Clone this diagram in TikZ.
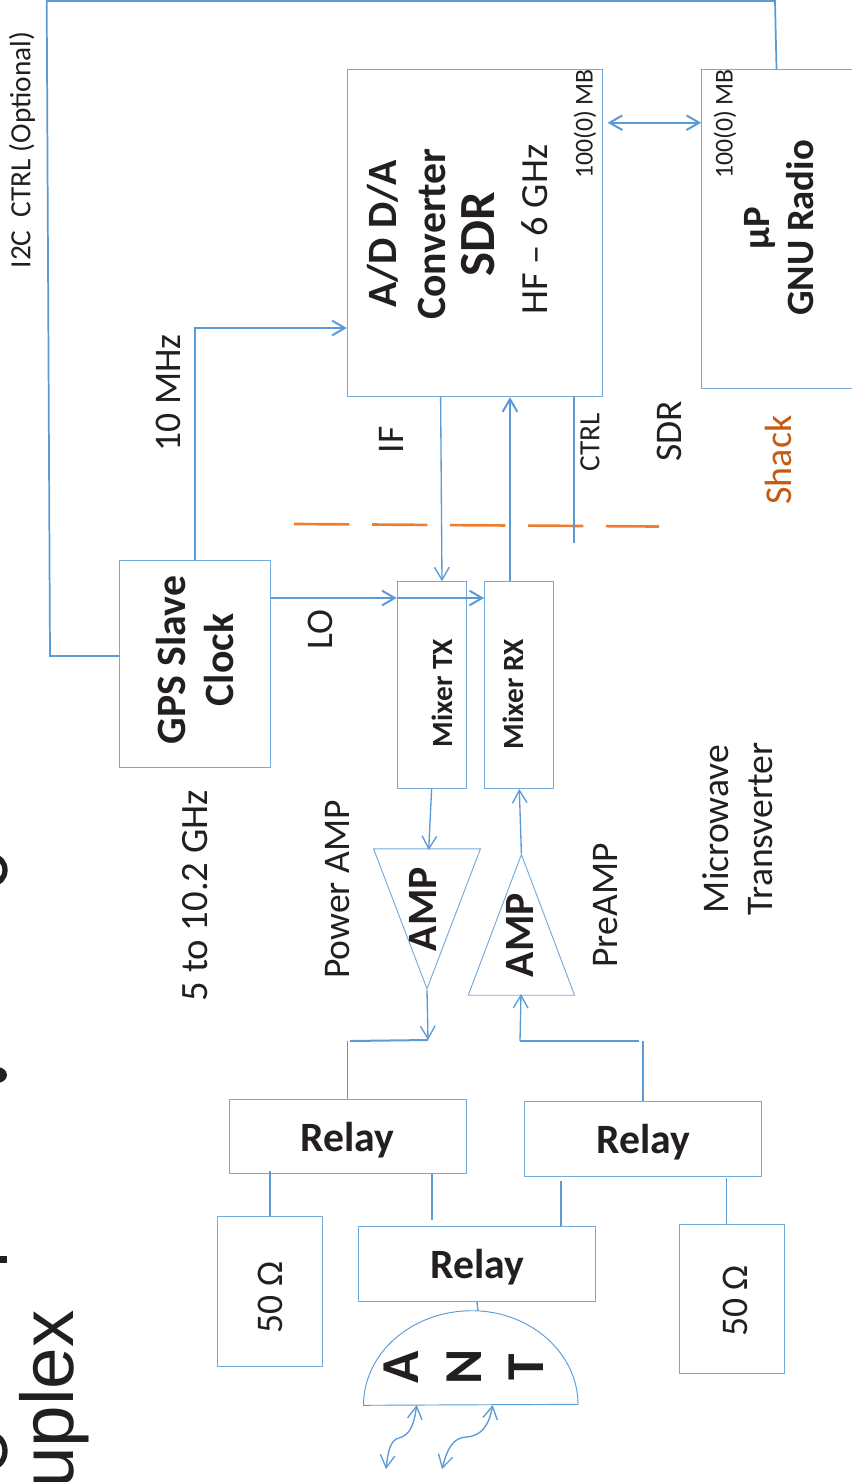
\documentclass[tikz,border=0pt]{standalone}
\usepackage{fontspec}
\setmainfont{Carlito}
\newfontfamily\titlefont{Liberation Sans}
\usepackage{tikz}
\usetikzlibrary{arrows.meta, shapes.geometric, calc}
\definecolor{wireblue}{HTML}{5B9BD5}
\definecolor{dashorange}{HTML}{ED7D31}
\definecolor{shackorange}{HTML}{C55A11}
\definecolor{inkblack}{HTML}{231F20}
\def\px{0.75pt}

\begin{document}
\begin{tikzpicture}[
  x=0.75pt, y=-0.75pt,
  boxnode/.style={draw=wireblue!85, line width=0.7pt, inner sep=0pt, text=inkblack},
  ampnode/.style={draw=wireblue!85, line width=0.7pt, inner sep=0pt, isosceles triangle,
                  isosceles triangle stretches},
  wire/.style={draw=wireblue, line width=1pt},
  bus/.style={draw=wireblue, line width=1.5pt},
  tip/.style={-{Straight Barb[length=9.5pt,width=11pt]}},
  bothtip/.style={{Straight Barb[length=9.5pt,width=11pt]}-{Straight Barb[length=9.5pt,width=11pt]}},
  vlabel/.style={rotate=90, align=center, inner sep=0pt, text=inkblack, font=\fontsize{28.2}{33}\selectfont},
  vbold/.style={vlabel, font=\fontsize{31.3}{36.7}\selectfont\bfseries},
  rlabel/.style={font=\fontsize{31.3}{36}\selectfont\bfseries, text depth=0pt},
]
  \useasboundingbox (0,0) rectangle (851,1482);

  % Title, cut off by the page edge
  \node[rotate=90, anchor=base east, inner sep=0pt, text=inkblack, font=\fontsize{56}{60}\selectfont\titlefont] (titletext) at (73,1310) {uplex};
  \draw[inkblack, line width=4pt] (-8,870) ellipse[x radius=13, y radius=14];
  \draw[inkblack, line width=4pt] (-8,1451) ellipse[x radius=13, y radius=16];
  \fill[inkblack] (0,1256) rectangle (7,1263);
  \fill[inkblack] (-3,1075) ellipse[x radius=10, y radius=8];

  % Boxes
  \node[boxnode, minimum width=255*\px, minimum height=327.4*\px] (sdrbox) at (474.8,233) {};
  \node[boxnode, minimum width=160*\px, minimum height=319*\px] (upbox) at (781.6,228.8) {};
  \node[boxnode, minimum width=150.3*\px, minimum height=207*\px] (gpsbox) at (195,663.8) {};
  \node[boxnode, minimum width=68.8*\px, minimum height=207*\px] (mixtx) at (431.6,685.2) {};
  \node[boxnode, minimum width=68.8*\px, minimum height=207*\px] (mixrx) at (519,685.2) {};
  \node[boxnode, rlabel, minimum width=237*\px, minimum height=74.7*\px] (relaya) at (347.5,1136.4) {Relay};
  \node[boxnode, rlabel, minimum width=236.6*\px, minimum height=74.6*\px] (relayb) at (643,1139) {Relay};
  \node[boxnode, rlabel, minimum width=236.5*\px, minimum height=74.6*\px] (relayc) at (477,1264) {Relay};
  \node[boxnode, minimum width=105.2*\px, minimum height=149.6*\px] (loada) at (270.2,1291.5) {};
  \node[boxnode, minimum width=105.3*\px, minimum height=149.3*\px] (loadb) at (732,1298.7) {};

  % Amplifiers
  \node[ampnode, shape border rotate=-90, anchor=apex, minimum width=106.9*\px, minimum height=140*\px] (amptx) at (427,990) {};
  \node[ampnode, shape border rotate=90, anchor=apex, minimum width=106.3*\px, minimum height=140.7*\px] (amprx) at (521.4,853.3) {};

  % Antenna
  \coordinate (antleft) at (363.5,1405.3);
  \coordinate (antright) at (578,1404.3);
  \coordinate (anttop) at (472,1310.7);
  \draw[wire, line width=0.7pt] (antleft) .. controls (363.5,1353) and (412,1310.7) .. (anttop)
    .. controls (530,1310.7) and (578,1353) .. (antright) -- cycle;
  \node[vbold, font=\fontsize{40}{47}\selectfont\bfseries] (anttext) at (464,1367) {A\\N\\T};

  % Box labels
  \node[vbold] (sdrtext) at (431,234) {A/D D/A\\Converter\\{\fontsize{38}{36.7}\selectfont SDR}};
  \node[vlabel, font=\fontsize{28.8}{33}\selectfont] (hftext) at (535,229.5) {HF -- 6 GHz};
  \node[vlabel, font=\fontsize{19.3}{23}\selectfont] (mba) at (585,124) {100(0) MB};
  \node[vlabel, font=\fontsize{19.3}{23}\selectfont] (mbb) at (725,124) {100(0) MB};
  \node[vbold, font=\fontsize{29}{33}\selectfont\bfseries] (uptext) at (779,228) {µP\\GNU Radio};
  \node[vbold] (gpstext) at (195,660) {GPS Slave\\Clock};
  \node[vlabel, font=\fontsize{22}{26}\selectfont\bfseries] (mixtxtext) at (442,693) {Mixer TX};
  \node[vlabel, font=\fontsize{22}{26}\selectfont\bfseries] (mixrxtext) at (513,694) {Mixer RX};
  \node[vbold] (amptxtext) at (423,909) {AMP};
  \node[vbold] (amprxtext) at (520,935) {AMP};
  \node[vlabel] (loadatext) at (270,1297.5) {50 Ω};
  \node[vlabel] (loadbtext) at (735,1301) {50 Ω};

  % Free labels
  \node[vlabel, font=\fontsize{22}{26}\selectfont] (i2ctext) at (22,150) {I2C\ \ CTRL (Optional)};
  \node[vlabel] (mhztext) at (168,393) {10 MHz};
  \node[vlabel] (iftext) at (391,440) {IF};
  \node[vlabel, font=\fontsize{22}{26}\selectfont] (ctrltext) at (590,442) {CTRL};
  \node[vlabel] (sdrside) at (669,431) {SDR};
  \node[vlabel, text=shackorange, font=\fontsize{28.5}{33}\selectfont] (shacktext) at (778.6,460) {Shack};
  \node[vlabel] (lotext) at (320,629.5) {LO};
  \node[vlabel, font=\fontsize{29}{33}\selectfont] (ghztext) at (195,895.5) {5 to 10.2 GHz};
  \node[vlabel] (powertext) at (337.5,889.5) {Power AMP};
  \node[vlabel] (pretext) at (606,905.5) {PreAMP};
  \node[vlabel] (mwtext) at (738,829) {Microwave\\Transverter};

  % Shack boundary
  \coordinate (dasha) at (294,524);
  \coordinate (dashb) at (659,526.5);
  \draw[dashorange, line width=2pt, dash pattern=on 41.5pt off 17pt] (dasha) -- (dashb);

  % I2C loop
  \coordinate (i2ca) at (50,656);
  \coordinate (i2cb) at (46.7,1);
  \coordinate (i2cc) at (775,1);
  \coordinate (i2cd) at (776.5,69);
  \draw[wire, line width=1.3pt] (gpsbox.west |- i2ca) -- (i2ca) -- (i2cb) -- (i2cc) -- (i2cd |- upbox.north);

  % Reference and LO
  \coordinate (mhza) at (195.3,328);
  \draw[bus, tip] (gpsbox.north -| mhza) -- (mhza) -- (sdrbox.west |- mhza);
  \coordinate (loa) at (270,598);
  \draw[bus, tip] (gpsbox.east |- loa) -- (mixtx.west |- loa);
  \draw[bus, tip] (mixtx.west |- loa) -- (mixrx.west |- loa);

  % SDR side
  \coordinate (ifa) at (440.6,396);
  \coordinate (ifb) at (442,581);
  \draw[wire, tip] (sdrbox.south -| ifa) -- (mixtx.north -| ifb);
  \coordinate (rxa) at (510,581);
  \draw[bus, tip] (mixrx.north -| rxa) -- (sdrbox.south -| rxa);
  \coordinate (ctrla) at (574,542.7);
  \draw[wire] (sdrbox.south -| ctrla) -- (ctrla);
  \coordinate (etha) at (607.7,122.7);
  \draw[bus, bothtip] (etha) -- (upbox.west |- etha);

  % Amplifier chain
  \coordinate (txa) at (428.7,850);
  \draw[wire, tip] (mixtx.south) -- (txa);
  \coordinate (txb) at (428,1040);
  \draw[wire, tip] (amptx.apex) -- (txb);
  \coordinate (txc) at (347.3,1041);
  \draw[bus] (txb) -- (350,1041);
  \draw[wire] (txc) -- (relaya.north -| txc);
  \coordinate (rxb) at (519.3,789);
  \draw[wire, tip] (amprx.apex) -- (rxb);
  \coordinate (rxc) at (520,1041);
  \coordinate (rxd) at (521,994);
  \draw[wire, tip] (rxc) -- (rxd);
  \coordinate (rxe) at (643,1041);
  \draw[bus] (rxc) -- (638.6,1041);
  \draw[wire] (rxe) -- (relayb.north -| rxe);

  % Relay wiring
  \coordinate (ra) at (270.2,1171);
  \draw[bus] (ra) -- (loada.north -| ra);
  \coordinate (rb) at (432,1220);
  \draw[wire] (relaya.south -| rb) -- (rb);
  \coordinate (rc) at (561,1181);
  \draw[wire] (rc) -- (relayc.north -| rc);
  \coordinate (rd) at (726.5,1178);
  \draw[wire] (rd) -- (loadb.north -| rd);
  \coordinate (antfeed) at (478,1310.7);
  \draw[wire] (relayc.south) -- (antfeed);

  % Radio paths
  \coordinate (waveb) at (386,1469);
  \coordinate (wavea) at (416.7,1405);
  \coordinate (waved) at (442,1469);
  \coordinate (wavec) at (492.7,1405);
  \draw[wire, bothtip] (waveb) .. controls (388,1452) and (390,1440) .. (399,1438)
    .. controls (410,1435) and (414,1425) .. (wavea);
  \draw[wire, bothtip] (waved) .. controls (447,1450) and (452,1438) .. (466,1437)
    .. controls (482,1436) and (489,1425) .. (wavec);
\end{tikzpicture}
\end{document}
